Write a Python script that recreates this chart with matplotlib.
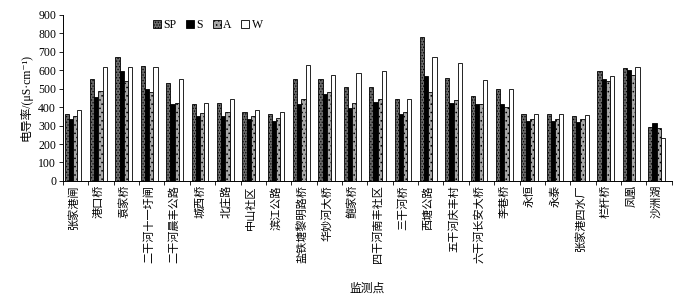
import numpy as np
import matplotlib
matplotlib.use("Agg")
import matplotlib.pyplot as plt

plt.rcParams['font.family'] = ['Liberation Serif', 'Noto Sans CJK SC', 'DejaVu Sans']
plt.rcParams['hatch.linewidth'] = 0.6

sites = ["张家港闸", "港口桥", "袁家桥", "二干河十一圩闸", "二干河晨丰公路", "城西桥",
         "北庄路", "中山社区", "滨江公路", "盐铁塘黎明路桥", "华妙河大桥", "鲍家桥",
         "四干河南丰社区", "三干河桥", "西塘公路", "五干河庆丰村", "六干河长安大桥",
         "李巷桥", "永恒", "永泰", "张家港四水厂", "栏杆桥", "凤凰", "沙洲湖"]

sp = [362, 551, 673, 624, 529, 415, 420, 371, 365, 551, 555, 511,
      511, 442, 778, 560, 460, 496, 365, 365, 353, 596, 611, 295]
s = [338, 455, 598, 500, 418, 353, 353, 338, 325, 416, 471, 393,
     427, 362, 569, 422, 416, 416, 327, 327, 322, 551, 600, 316]
a = [351, 485, 540, 482, 425, 367, 371, 351, 342, 442, 482, 420,
     445, 376, 480, 438, 416, 402, 338, 338, 333, 540, 573, 287]
w = [387, 615, 620, 615, 551, 425, 445, 382, 371, 629, 575, 584,
     595, 442, 673, 640, 545, 496, 365, 365, 356, 571, 620, 233]

fig = plt.figure(figsize=(6.95, 2.99), dpi=100)
ax = fig.add_axes([0.0906, 0.395, 0.876, 0.555])

x = np.arange(len(sites))
bw = 0.165
styles = [("SP", sp, "#6a6a6a", "......"),
          ("S", s, "black", None),
          ("A", a, "#a8a8a8", "...."),
          ("W", w, "white", None)]
for k, (name, vals, fc, hatch) in enumerate(styles):
    ax.bar(x + (k - 1.5) * bw, vals, bw, color=fc, edgecolor="black",
           linewidth=0.6, hatch=hatch, label=name)

ax.set_xlim(-0.4, 23.6)
ax.set_ylim(0, 900)
ax.set_yticks(range(0, 901, 100))
ax.set_xticks(x)
ax.set_xticklabels(sites, rotation=90, fontsize=8)
ax.set_xticks(np.arange(-0.4, 23.7, 1), minor=True)
ax.tick_params(axis="x", which="major", length=0, pad=3)
ax.tick_params(axis="x", which="minor", length=3, direction="out", width=0.6)
ax.tick_params(axis="y", length=3, direction="out", width=0.6, labelsize=8.5, pad=2)
for side in ["top", "right"]:
    ax.spines[side].set_visible(False)
for side in ["left", "bottom"]:
    ax.spines[side].set_linewidth(0.7)

ax.set_ylabel("电导率/(μS·cm⁻¹)", fontsize=8.5, labelpad=4)
ax.set_xlabel("监测点", fontsize=8.5, labelpad=14)

ax.legend(ncol=4, frameon=False, loc="upper left", bbox_to_anchor=(0.13, 1.04),
          fontsize=8.5, handlelength=0.7, handleheight=0.7, handletextpad=0.2,
          columnspacing=0.8)

fig.savefig("out.png", dpi=100)
